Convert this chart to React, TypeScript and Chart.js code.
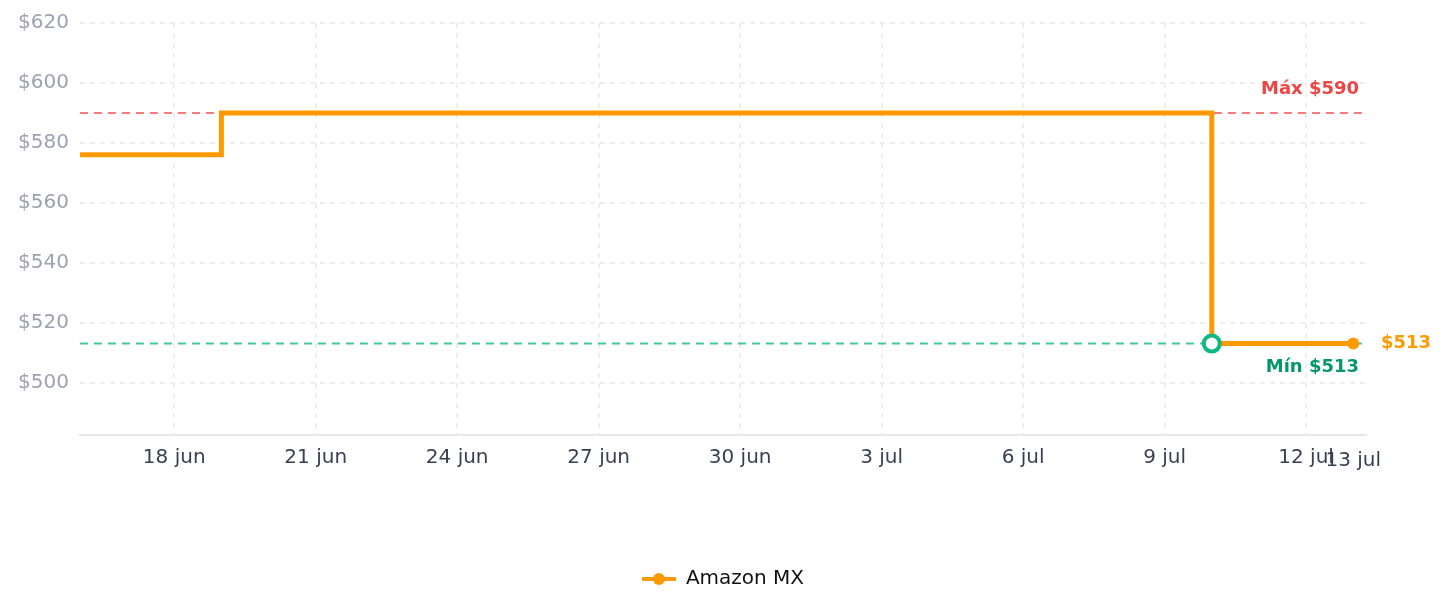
import React, { useEffect, useRef } from 'react';
import { Chart, registerables } from 'chart.js';

Chart.register(...registerables);

const dates = ['2025-06-16', '2025-06-19', '2025-07-10', '2025-07-13'];
const prices = [576, 590, 513, 513];
const seriesName = 'Amazon MX';
const tickDates = ['2025-06-18', '2025-06-21', '2025-06-24', '2025-06-27', '2025-06-30', '2025-07-03', '2025-07-06', '2025-07-09', '2025-07-12'];
const yTicks = [500, 520, 540, 560, 580, 600, 620];
const monthNames = ['ene', 'feb', 'mar', 'abr', 'may', 'jun', 'jul', 'ago', 'sep', 'oct', 'nov', 'dic'];

const DAY = 86400000;
const t0 = Date.parse(dates[0] + 'T00:00:00Z');
const toDay = (s: string) => (Date.parse(s + 'T00:00:00Z') - t0) / DAY;
const fmt = (d: number) => {
  const dt = new Date(t0 + Math.round(d) * DAY);
  return `${dt.getUTCDate()} ${monthNames[dt.getUTCMonth()]}`;
};

const ORANGE = '#ff9900';
const GREEN = '#10b981';
const RED = '#ef4444';
const FONT = 'DejaVu Sans, sans-serif';

export default function App() {
  const ref = useRef<HTMLCanvasElement>(null);
  useEffect(() => {
    if (!ref.current) return;
    const points = dates.map((d, i) => ({ x: toDay(d), y: prices[i] }));
    const maxP = Math.max(...prices);
    const minP = Math.min(...prices);
    const minIdx = prices.indexOf(minP);
    const lastIdx = prices.length - 1;
    const lastX = points[lastIdx].x;

    const icon = document.createElement('canvas');
    icon.width = 34;
    icon.height = 14;
    const ic = icon.getContext('2d')!;
    ic.strokeStyle = ORANGE;
    ic.lineWidth = 4;
    ic.beginPath();
    ic.moveTo(0, 7);
    ic.lineTo(34, 7);
    ic.stroke();
    ic.fillStyle = ORANGE;
    ic.beginPath();
    ic.arc(17, 7, 6, 0, Math.PI * 2);
    ic.fill();

    const refLines = {
      id: 'refLines',
      beforeDatasetsDraw(chart: any) {
        const { ctx, chartArea, scales } = chart;
        const y = scales.y;
        ctx.save();
        ctx.lineWidth = 2;
        ctx.setLineDash([8, 6]);
        const yMax = y.getPixelForValue(maxP);
        ctx.strokeStyle = 'rgba(239,68,68,0.7)';
        ctx.beginPath();
        ctx.moveTo(chartArea.left, yMax);
        ctx.lineTo(chartArea.right, yMax);
        ctx.stroke();
        const yMin = y.getPixelForValue(minP);
        ctx.strokeStyle = 'rgba(16,185,129,0.8)';
        ctx.beginPath();
        ctx.moveTo(chartArea.left, yMin);
        ctx.lineTo(chartArea.right, yMin);
        ctx.stroke();
        ctx.restore();
      },
      afterDatasetsDraw(chart: any) {
        const { ctx, chartArea, scales } = chart;
        const y = scales.y;
        const x = scales.x;
        const yMax = y.getPixelForValue(maxP);
        const yMin = y.getPixelForValue(minP);
        ctx.save();
        ctx.font = `bold 18px ${FONT}`;
        ctx.textBaseline = 'middle';
        ctx.textAlign = 'right';
        ctx.fillStyle = RED;
        ctx.fillText(`Máx $${maxP}`, chartArea.right - 7, yMax - 24);
        ctx.fillStyle = '#059669';
        ctx.fillText(`Mín $${minP}`, chartArea.right - 7, yMin + 24);
        ctx.textAlign = 'left';
        ctx.fillStyle = ORANGE;
        ctx.fillText(`$${prices[lastIdx]}`, chartArea.right + 15, y.getPixelForValue(prices[lastIdx]));
        ctx.font = `20px ${FONT}`;
        ctx.textAlign = 'center';
        ctx.fillStyle = '#374151';
        ctx.fillText(fmt(lastX), x.getPixelForValue(lastX), chartArea.bottom + 26);
        ctx.restore();
      },
    };

    const chart = new Chart(ref.current, {
      type: 'line',
      data: {
        datasets: [
          {
            label: seriesName,
            data: points,
            borderColor: ORANGE,
            backgroundColor: ORANGE,
            borderWidth: 5,
            stepped: true,
            pointRadius: prices.map((_, i) => (i === minIdx ? 8 : i === lastIdx ? 6 : 0)),
            pointBackgroundColor: prices.map((_, i) => (i === minIdx ? '#ffffff' : ORANGE)),
            pointBorderColor: prices.map((_, i) => (i === minIdx ? GREEN : ORANGE)),
            pointBorderWidth: prices.map((_, i) => (i === minIdx ? 4 : 0)),
            pointStyle: 'circle',
          },
        ],
      },
      options: {
        animation: false,
        responsive: true,
        maintainAspectRatio: false,
        layout: { padding: { left: -1, right: 0, top: 0, bottom: 0 } },
        plugins: {
          legend: {
            position: 'bottom',
            labels: {
              usePointStyle: true,
              pointStyle: icon as any,
              pointStyleWidth: 34,
              color: '#111',
              font: { family: FONT, size: 20 },
              padding: 10,
            },
          },
          tooltip: { enabled: false },
        },
        scales: {
          x: {
            type: 'linear',
            min: 0,
            max: lastX + 0.27,
            afterBuildTicks: (s: any) => {
              s.ticks = tickDates.map((d) => ({ value: toDay(d) }));
            },
            afterFit: (s: any) => {
              s.height = 124;
            },
            ticks: {
              callback: (v: any) => fmt(Number(v)),
              color: '#374151',
              font: { family: FONT, size: 20 },
              padding: 11,
              maxRotation: 0,
              autoSkip: false,
            },
            grid: { color: '#eeeeee', lineWidth: 2, drawTicks: false },
            border: { display: true, color: '#e5e7eb', width: 2, dash: [5, 5] as any },
          },
          y: {
            type: 'linear',
            min: 482.5,
            max: 620,
            afterBuildTicks: (s: any) => {
              s.ticks = yTicks.map((v) => ({ value: v }));
            },
            ticks: {
              callback: (v: any) => `$${v}`,
              color: '#9ca3af',
              font: { family: FONT, size: 20 },
              padding: 11,
            },
            grid: { color: '#eeeeee', lineWidth: 2, drawTicks: false },
            border: { display: false, dash: [5, 5] as any },
          },
          yRight: {
            type: 'linear',
            position: 'right',
            display: true,
            grid: { display: false, drawTicks: false },
            ticks: { display: false },
            border: { display: false },
            afterFit: (s: any) => {
              s.width = 73;
            },
          },
        },
      } as any,
      plugins: [refLines],
    });
    return () => chart.destroy();
  }, []);
  return (
    <div style={{ position: 'relative', width: '100%', height: 599, marginTop: -8 }}>
      <canvas ref={ref} />
    </div>
  );
}
